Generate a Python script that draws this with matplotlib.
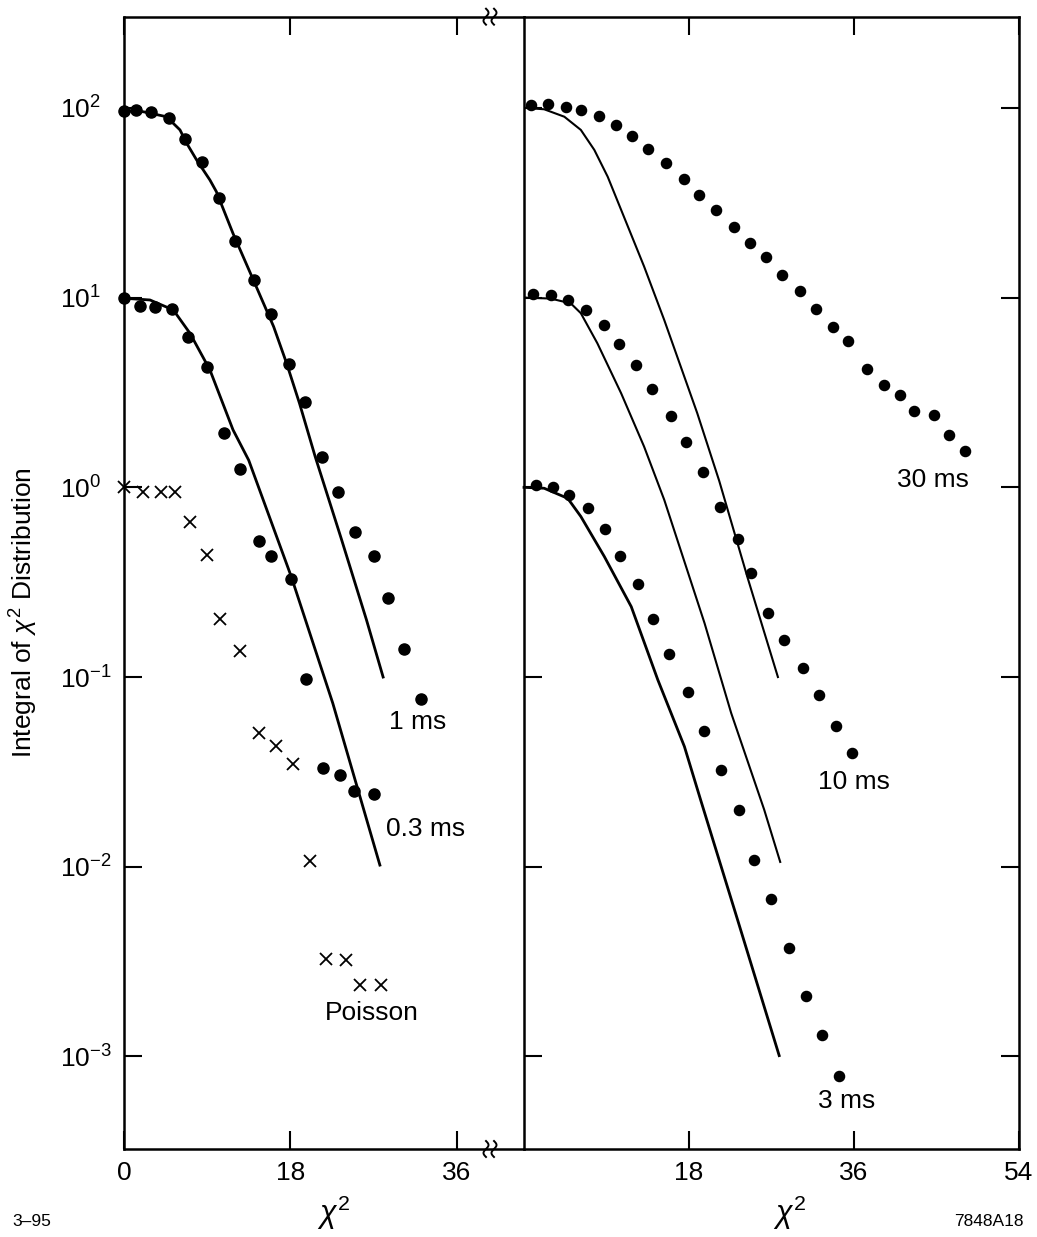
import numpy as np
import matplotlib
matplotlib.use('Agg')
import matplotlib.pyplot as plt
from matplotlib.lines import Line2D
from matplotlib.ticker import LogFormatterMathtext, NullLocator, NullFormatter

plt.rcParams['font.family'] = ['Liberation Sans', 'DejaVu Sans']
plt.rcParams['mathtext.fontset'] = 'custom'
plt.rcParams['mathtext.rm'] = 'Liberation Sans'
plt.rcParams['mathtext.it'] = 'Liberation Sans:italic'

# ---- left panel data ----
x_1ms = [0, 1.26, 2.92, 4.83, 6.64, 8.47, 10.3, 12.0, 14.1, 15.9, 17.9, 19.6,
         21.4, 23.2, 25.0, 27.1, 28.6, 30.3, 32.1]
y_1ms = [96.4, 97.6, 95.6, 88.9, 68.7, 51.9, 33.5, 19.95, 12.4, 8.18, 4.47, 2.81,
         1.45, 0.942, 0.582, 0.433, 0.262, 0.141, 0.0769]
x_1ms_fit = [0, 2.08, 4.6, 6.06, 6.78, 7.86, 9.3, 10.0, 11.8, 14.0, 16.2, 17.6,
             19.0, 20.7, 23.5, 26.25, 28.05]
y_1ms_fit = [96.4, 95.5, 89.9, 76.6, 65.2, 53.2, 41.7, 36.2, 21.8, 12.4, 7.03, 4.51,
             2.77, 1.45, 0.54, 0.2, 0.1]

x_03ms = [0, 1.70, 3.39, 5.19, 6.93, 9.0, 10.8, 12.6, 14.6, 15.9, 18.1, 19.75,
          21.55, 23.4, 24.95, 27.1]
y_03ms = [9.93, 9.04, 8.9, 8.71, 6.21, 4.30, 1.93, 1.245, 0.52, 0.433, 0.329, 0.0982,
          0.033, 0.0303, 0.025, 0.0241]
x_03ms_fit = [0, 2.81, 5.34, 7.14, 9.3, 11.8, 13.5, 18.1, 22.6, 27.7]
y_03ms_fit = [9.93, 9.72, 8.61, 6.49, 4.16, 2.01, 1.39, 0.339, 0.0728, 0.0102]

x_poisson = [0, 2.02, 3.97, 5.5, 7.18, 8.94, 10.4, 12.6, 14.6, 16.5, 18.3, 20.1,
             21.9, 24.0, 25.5, 27.8]
y_poisson = [1.0, 0.942, 0.942, 0.942, 0.658, 0.44, 0.202, 0.137, 0.0506, 0.0435,
             0.0347, 0.0107, 0.00327, 0.00323, 0.00238, 0.00238]

# ---- right panel data ----
x_30ms = [0.76, 2.58, 4.58, 6.25, 8.18, 10.0, 11.78, 13.5, 15.5, 17.4, 19.05, 20.97,
          22.9, 24.65, 26.4, 28.1, 30.1, 31.8, 33.7, 35.4, 37.4, 39.3, 41.0, 42.6,
          44.7, 46.4, 48.1]
y_30ms = [103.8, 105.0, 101.6, 97.5, 90.4, 81.1, 71.1, 60.5, 51.3, 42.4, 34.9, 28.9,
          23.7, 19.3, 16.4, 13.2, 10.8, 8.69, 7.01, 5.89, 4.23, 3.47, 3.07, 2.52,
          2.42, 1.89, 1.56]
x_fit_100 = [0.2, 2.2, 4.4, 6.2, 7.67, 9.13, 10.9, 13.1, 15.3, 17.1, 18.9, 21.3, 24.4, 27.7]
y_fit_100 = [100, 98.4, 89.9, 76.6, 60.1, 43.4, 26.7, 14.6, 7.62, 4.33, 2.46, 1.08, 0.333, 0.1]

x_10ms = [0.95, 2.9, 4.77, 6.73, 8.69, 10.4, 12.25, 14.0, 16.0, 17.7, 19.55, 21.4,
          23.3, 24.8, 26.6, 28.4, 30.4, 32.2, 34.0, 35.8]
y_10ms = [10.5, 10.3, 9.68, 8.61, 7.18, 5.70, 4.41, 3.29, 2.38, 1.73, 1.20, 0.791,
          0.532, 0.354, 0.218, 0.156, 0.111, 0.0805, 0.0552, 0.0400]
x_fit_10 = [0.2, 2.9, 5.1, 6.2, 8.0, 10.6, 13.1, 15.3, 19.7, 22.6, 26.2, 27.95]
y_fit_10 = [10, 9.89, 9.33, 8.28, 5.75, 3.13, 1.64, 0.859, 0.192, 0.0646, 0.02, 0.0106]

x_3ms = [1.3, 3.13, 4.87, 6.95, 8.87, 10.5, 12.4, 14.1, 15.85, 17.85, 19.6, 21.45,
         23.5, 25.1, 26.97, 28.9, 30.8, 32.5, 34.4]
y_3ms = [1.03, 1.01, 0.916, 0.778, 0.605, 0.437, 0.308, 0.202, 0.133, 0.0832, 0.0518,
         0.0325, 0.0199, 0.0108, 0.00675, 0.00372, 0.00208, 0.0013, 0.00079]
x_fit_1 = [0, 2.2, 4.77, 6.2, 8.76, 11.7, 14.6, 17.5, 19.27, 23.3, 27.84]
y_fit_1 = [1.0, 0.989, 0.875, 0.702, 0.432, 0.235, 0.0966, 0.043, 0.0225, 0.00525, 0.00101]

decades = [1e-3, 1e-2, 1e-1, 1e0, 1e1, 1e2]

W, H = 1037, 1237
fig = plt.figure(figsize=(W / 100, H / 100), dpi=100)

x_left, x_mid, x_right = 124, 524, 1019
y_top, y_bot = 16.7, 1149
ax1 = fig.add_axes([x_left / W, 1 - y_bot / H, (x_mid - x_left) / W, (y_bot - y_top) / H])
ax2 = fig.add_axes([x_mid / W, 1 - y_bot / H, (x_right - x_mid) / W, (y_bot - y_top) / H])

ylim = (10 ** -3.488, 10 ** 2.481)
for ax in (ax1, ax2):
    ax.set_yscale('log')
    ax.set_ylim(*ylim)
    ax.set_yticks(decades)
    ax.yaxis.set_minor_locator(NullLocator())
    for s in ax.spines.values():
        s.set_linewidth(1.8)
    ax.tick_params(which='major', direction='in', length=13, width=1.5,
                   labelsize=19, top=True)

ms_big = 8
ms_small = 7.3

# left panel
ax1.plot(x_1ms_fit, y_1ms_fit, color='black', lw=2.0, clip_on=False)
ax1.plot(x_1ms, y_1ms, 'o', color='black', ms=ms_big, clip_on=False)
ax1.plot(x_03ms_fit, y_03ms_fit, color='black', lw=2.0, clip_on=False)
ax1.plot(x_03ms, y_03ms, 'o', color='black', ms=ms_big, clip_on=False)
ax1.plot(x_poisson, y_poisson, 'x', color='black', ms=8, mew=1.3, clip_on=False)

ax1.set_xlim(0, 43.3)
ax1.set_xticks([0, 18, 36])
ax1.spines['right'].set_visible(False)
ax1.tick_params(axis='x', pad=9)
# tick labels start at a common left edge, as in the original
ax1.tick_params(axis='y', left=True, right=False, pad=46)
ax1.yaxis.set_major_formatter(LogFormatterMathtext())
for lab in ax1.get_yticklabels():
    lab.set_horizontalalignment('left')

ax1.text(31.8, 0.058, '1 ms', fontsize=19, ha='center', va='center')
ax1.text(32.6, 0.0158, '0.3 ms', fontsize=19, ha='center', va='center')
ax1.text(26.8, 0.00169, 'Poisson', fontsize=19, ha='center', va='center')

# right panel
ax2.plot(x_fit_100, y_fit_100, color='black', lw=1.5, clip_on=False)
ax2.plot(x_fit_10, y_fit_10, color='black', lw=1.5, clip_on=False)
ax2.plot(x_fit_1, y_fit_1, color='black', lw=2.0, clip_on=False)
ax2.plot(x_30ms, y_30ms, 'o', color='black', ms=ms_small, clip_on=False)
ax2.plot(x_10ms, y_10ms, 'o', color='black', ms=ms_small, clip_on=False)
ax2.plot(x_3ms, y_3ms, 'o', color='black', ms=ms_small, clip_on=False)

ax2.set_xlim(0, 54)
ax2.set_xticks([18, 36, 54])
ax2.tick_params(axis='x', pad=9)
ax2.tick_params(axis='y', left=True, right=True, labelleft=False)
ax2.yaxis.set_major_formatter(NullFormatter())

ax2.text(44.6, 1.094, '30 ms', fontsize=19, ha='center', va='center')
ax2.text(36.0, 0.028, '10 ms', fontsize=19, ha='center', va='center')
ax2.text(35.2, 0.000582, '3 ms', fontsize=19, ha='center', va='center')

# axis labels and notes
fig.text(334 / W, 1 - 1213 / H, r'$\chi^2$', fontsize=22, ha='center', va='center')
fig.text(790 / W, 1 - 1213 / H, r'$\chi^2$', fontsize=22, ha='center', va='center')
fig.text(24 / W, 1 - 613 / H, r'Integral of $\chi^2$ Distribution', fontsize=19,
         rotation=90, ha='center', va='center')
fig.text(32 / W, 1 - 1222 / H, '3\u201395', fontsize=12.5, ha='center', va='center')
fig.text(989 / W, 1 - 1222 / H, '7848A18', fontsize=12.5, ha='center', va='center')

# axis-break squiggles on top and bottom frame
t = np.linspace(-1, 1, 40)
for cy in (y_top, y_bot):
    for cx in (486, 494):
        xs = (cx + 2.5 * np.sin(np.pi * t)) / W
        ys = 1 - (cy - 8 * t) / H
        fig.add_artist(Line2D(xs, ys, color='black', lw=1.4, transform=fig.transFigure))

fig.savefig('out.png', dpi=100)
plt.close(fig)
